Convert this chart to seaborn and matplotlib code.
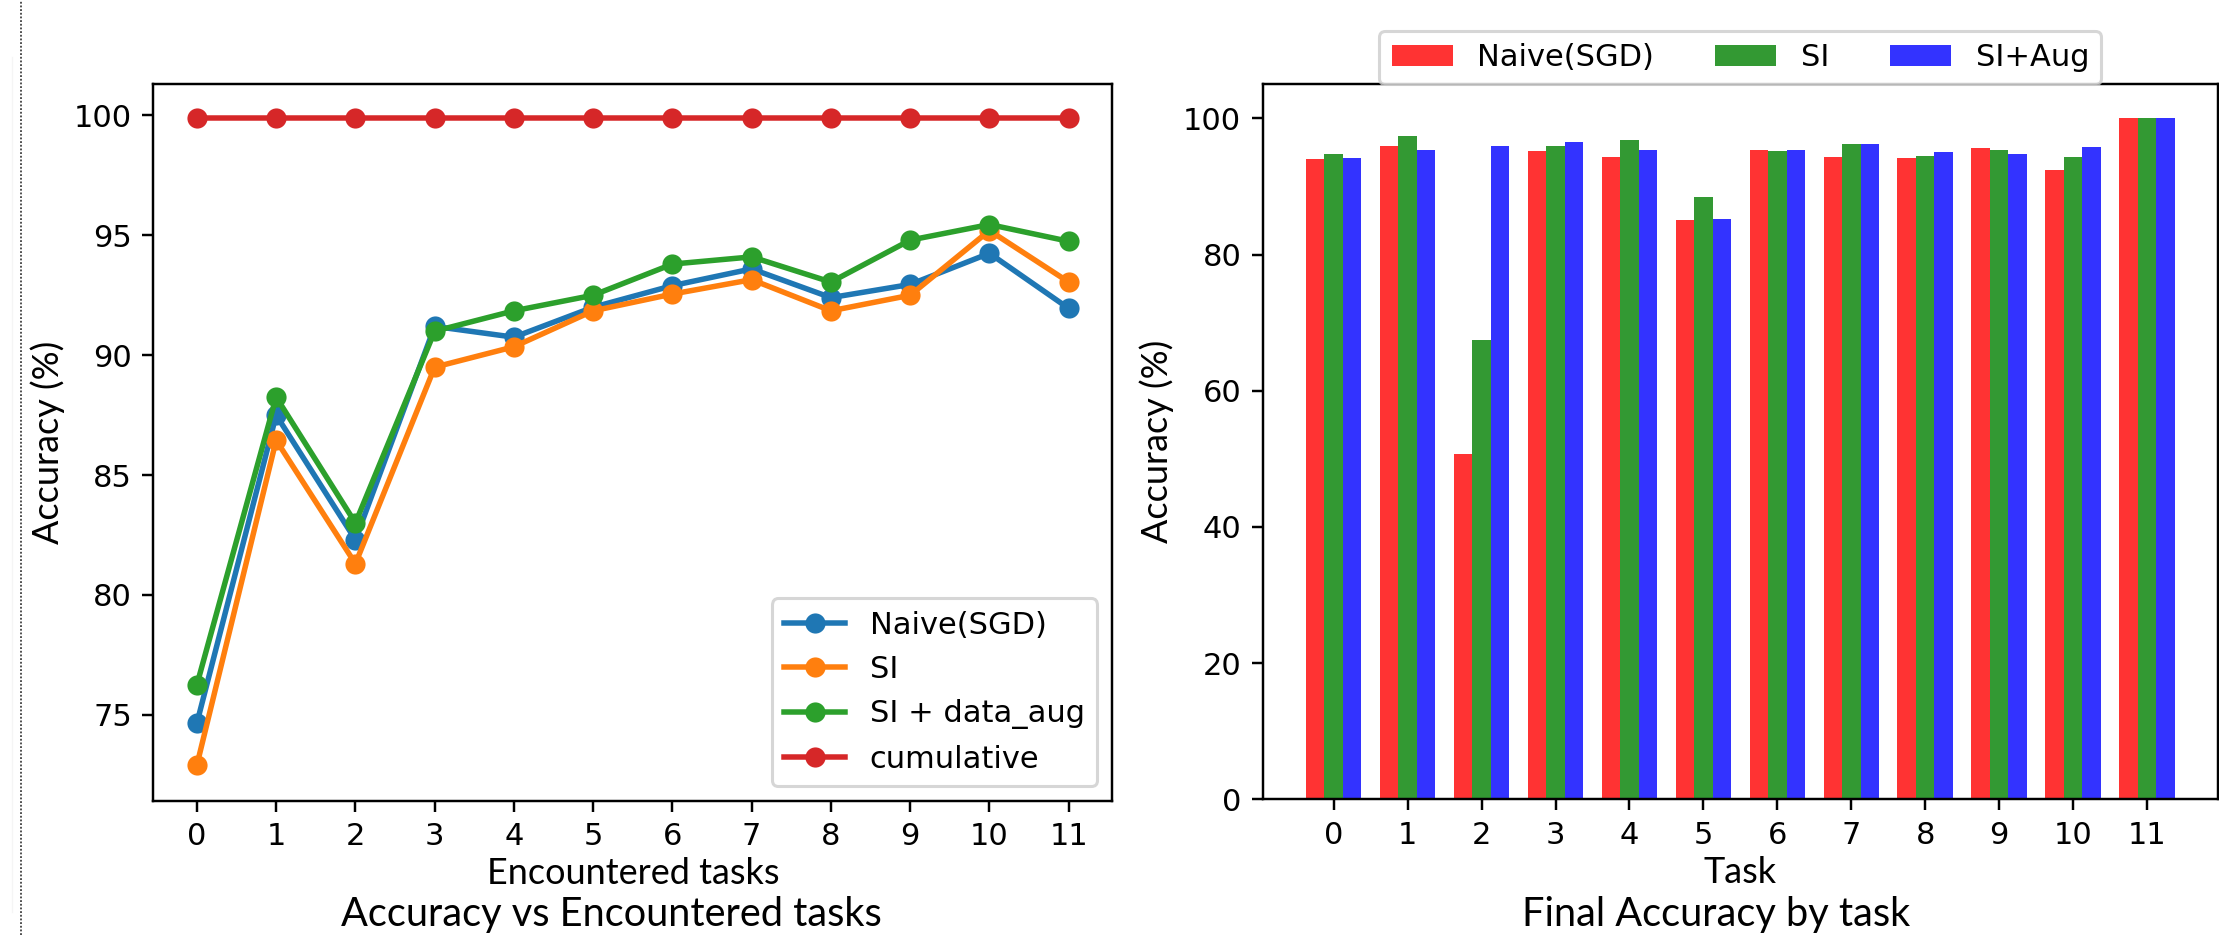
import numpy as np
import pandas as pd
import matplotlib
matplotlib.use("Agg")
import matplotlib.pyplot as plt
from matplotlib.lines import Line2D
import seaborn as sns

# ---- accuracy after each encountered task (left panel) ----
tasks = list(range(12))
naive_sgd = [74.65, 87.5, 82.3, 91.2, 90.75, 92.0, 92.9, 93.6, 92.4, 92.95, 94.25, 91.95]
si = [72.9, 86.45, 81.3, 89.5, 90.35, 91.85, 92.55, 93.15, 91.85, 92.5, 95.2, 93.05]
si_data_aug = [76.25, 88.25, 83.0, 91.0, 91.85, 92.5, 93.8, 94.1, 93.05, 94.8, 95.45, 94.75]
cumulative = [99.9] * 12
line_labels = ["Naive(SGD)", "SI", "SI + data_aug", "cumulative"]

# ---- final accuracy per task (right panel) ----
final_naive = [94.0, 96.0, 50.7, 95.2, 94.3, 85.0, 95.3, 94.3, 94.2, 95.6, 92.4, 100.0]
final_si = [94.8, 97.4, 67.4, 95.9, 96.8, 88.4, 95.2, 96.2, 94.4, 95.4, 94.3, 100.0]
final_si_aug = [94.2, 95.3, 95.9, 96.6, 95.4, 85.2, 95.3, 96.2, 95.0, 94.7, 95.8, 100.0]
bar_labels = ["Naive(SGD)", "SI", "SI+Aug"]

W, H, DPI = 2219, 935, 220
fig = plt.figure(figsize=(W / DPI, H / DPI), dpi=DPI)
fig.patch.set_facecolor("white")

label_font = ["Lato", "DejaVu Sans"]
LW, MS = 1.8, 6.6

# ---------------- left: accuracy vs encountered tasks ----------------
ax1 = fig.add_axes([153.3 / W, 1 - 801 / H, (1112.3 - 153.3) / W, (801 - 84.3) / H])
line_df = pd.DataFrame({
    "task": tasks * 4,
    "acc": naive_sgd + si + si_data_aug + cumulative,
    "method": sum([[m] * 12 for m in line_labels], []),
})
tab = sns.color_palette("tab10", 4)
sns.lineplot(data=line_df, x="task", y="acc", hue="method", hue_order=line_labels,
             palette=tab, marker="o", markersize=MS, markeredgewidth=0,
             linewidth=LW, legend=False, ax=ax1, errorbar=None)
handles = [Line2D([], [], color=c, marker="o", markersize=MS, markeredgewidth=0, linewidth=LW)
           for c in tab]
ax1.legend(handles, line_labels, loc="lower right")
ax1.set_xticks(tasks)
ax1.set_xlim(-0.55, 11.55)
ax1.set_ylim(71.4, 101.3)
ax1.set_xlabel("Encountered tasks", family=label_font, fontsize=11.8, labelpad=2)
ax1.set_ylabel("Accuracy (%)", family=label_font, fontsize=11.8, labelpad=3)

# ---------------- right: final accuracy by task ----------------
ax2 = fig.add_axes([1262.7 / W, 1 - 799.3 / H, (2218.0 - 1262.7) / W, (799.3 - 84.3) / H])
bar_df = pd.DataFrame({
    "task": tasks * 3,
    "acc": final_naive + final_si + final_si_aug,
    "method": sum([[m] * 12 for m in bar_labels], []),
})
bar_colors = ["#ff3333", "#339933", "#3333ff"]
sns.barplot(data=bar_df, x="task", y="acc", hue="method", hue_order=bar_labels,
            palette=bar_colors, saturation=1, width=0.75, ax=ax2, errorbar=None)
sns.move_legend(ax2, "lower center", bbox_to_anchor=(0.5, 1.0), ncol=3,
                title=None, frameon=True, borderaxespad=0)
ax2.set_xlim(-0.96, 11.96)
ax2.set_ylim(0, 105)
ax2.set_xlabel("Task", family=label_font, fontsize=11.8, labelpad=2)
ax2.set_ylabel("Accuracy (%)", family=label_font, fontsize=11.8, labelpad=3)

for ax in (ax1, ax2):
    for s in ax.spines.values():
        s.set_visible(True)
        s.set_color("black")

# ---------------- captions under each panel ----------------
fig.text(611.5 / W, 1 - 926 / H, "Accuracy vs Encountered tasks", family=label_font,
         fontsize=13.0, ha="center", va="baseline")
fig.text(1716 / W, 1 - 926 / H, "Final Accuracy by task", family=label_font,
         fontsize=13.0, ha="center", va="baseline")

# page guide along the left margin
fig.add_artist(Line2D([21 / W, 21 / W], [0, 1], transform=fig.transFigure,
                      color="#444444", linewidth=0.6, linestyle=(0, (1, 1))))
fig.add_artist(Line2D([12 / W, 12 / W], [1 - 912 / H, 1 - 57 / H], transform=fig.transFigure,
                      color="#f5f5f5", linewidth=0.4))

fig.savefig("out.png", dpi=DPI)
